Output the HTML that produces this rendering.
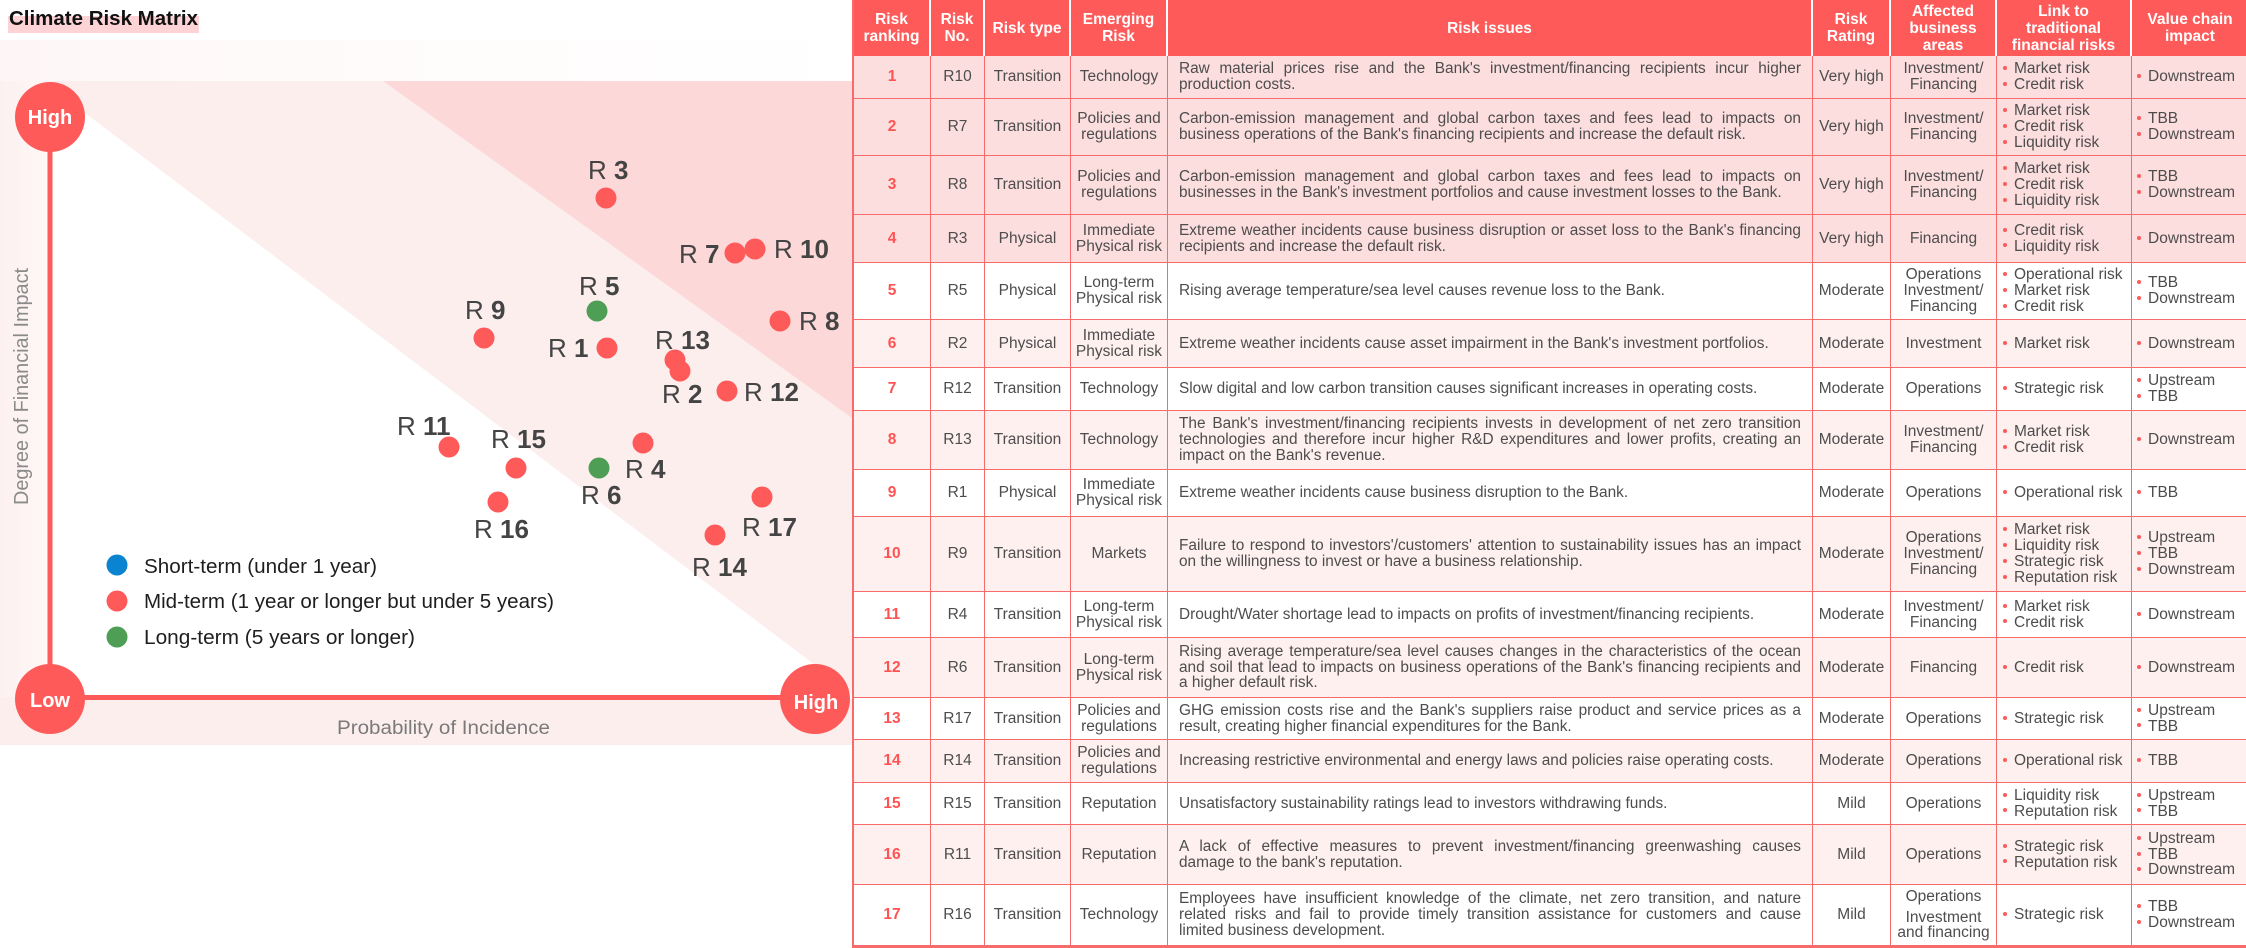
<!DOCTYPE html>
<html><head><meta charset="utf-8">
<style>
html,body{margin:0;padding:0;background:#fff;}
body{width:2246px;height:948px;position:relative;overflow:hidden;font-family:"Liberation Sans",sans-serif;}
#chart{position:absolute;left:0;top:0;}
#t{position:absolute;left:852px;top:0;width:1394px;display:grid;
 grid-template-columns:77px 54px 86px 97px 645px 78px 106px 135px 116px;
 grid-template-rows:56px 43px 57px 59px 48px 57px 48px 43px 59px 47px 75px 46px 60px 42px 43px 42px 60px 61px;
 font-size:15.5px;color:#4d4d4d;border-left:2px solid #f76b6b;border-bottom:2px solid #f76b6b;box-sizing:border-box;}
.r{display:contents;}
.r>div{box-sizing:border-box;border-right:1.5px solid #f76b6b;border-bottom:1.5px solid #f76b6b;display:flex;align-items:center;justify-content:center;text-align:center;line-height:15.8px;}
.hd>div{background:#ff5a5a;color:#fff;font-weight:bold;border-right:2px solid #fff;border-bottom:none;line-height:17px;}
.hd>div:last-child{border-right:none;}
.pk>div{background:#fddede;}
.lp>div{background:#fff0f0;}
.r>div:nth-child(1){color:#ff5252;font-weight:bold;}
.hd>div:nth-child(1){color:#fff;}
.r>div:nth-child(5){justify-content:flex-start;padding:0 11px;text-align:left;font-size:15.4px;}
.hd>div:nth-child(5){justify-content:center;}
.iss{width:100%;}
.iss div{text-align:justify;text-align-last:justify;}
.iss div:last-child{text-align-last:left;}
.lh20{line-height:20px;}
.bl{justify-content:flex-start !important;text-align:left !important;}
.r>div:nth-child(8).bl{padding-left:6px;}
.r>div:nth-child(9).bl{padding-left:5px;}
.bl>span{display:block;}
.b{white-space:nowrap;display:block;}
.b::before{content:"";display:inline-block;width:4px;height:4px;border-radius:50%;background:#ff5a5a;margin-right:7px;vertical-align:middle;position:relative;top:-1px;}
.r>div:last-child{border-right:none;}
</style></head><body>

<svg id="chart" width="852" height="760" viewBox="0 0 852 760" xmlns="http://www.w3.org/2000/svg">
 <defs>
  <linearGradient id="lg" x1="0" y1="0" x2="1" y2="0">
   <stop offset="0" stop-color="#fdf0f0"/><stop offset="1" stop-color="#fef7f7"/>
  </linearGradient>
  <linearGradient id="tg" x1="0" y1="0" x2="1" y2="0">
   <stop offset="0" stop-color="#fef6f6"/><stop offset="0.3" stop-color="#fffafa"/><stop offset="1" stop-color="#ffffff"/>
  </linearGradient>
 </defs>
 <rect x="0" y="0" width="852" height="760" fill="#fff"/>
 <rect x="0" y="40" width="852" height="41" fill="url(#tg)"/>
 <rect x="0" y="81" width="852" height="664" fill="#fdeeee"/>
 <rect x="0" y="81" width="48" height="616" fill="url(#lg)"/>
 <polygon points="383,81 852,81 852,418" fill="#fdd8d8"/>
 <polygon points="50,86.5 852,693 852,699 50,699" fill="#fff"/>
 <rect x="8" y="16" width="191" height="17" fill="#fdd3d6"/>
 <text x="9" y="25" font-size="20" font-weight="bold" fill="#111" textLength="189" lengthAdjust="spacingAndGlyphs">Climate Risk Matrix</text>

 <line x1="50" y1="117" x2="50" y2="699" stroke="#ff5a5a" stroke-width="5"/>
 <line x1="50" y1="697.5" x2="815" y2="697.5" stroke="#ff5a5a" stroke-width="5"/>
 <circle cx="50" cy="117" r="35" fill="#ff5a5a"/>
 <circle cx="50" cy="699" r="35" fill="#ff5a5a"/>
 <circle cx="815" cy="699" r="35" fill="#ff5a5a"/>
 <text x="50" y="124" font-size="20" font-weight="bold" fill="#fff" text-anchor="middle">High</text>
 <text x="50" y="707" font-size="20" font-weight="bold" fill="#fff" text-anchor="middle">Low</text>
 <text x="816" y="709" font-size="20" font-weight="bold" fill="#fff" text-anchor="middle">High</text>

 <text transform="translate(28,505) rotate(-90)" x="0" y="0" font-size="20" fill="#8a8a8a" textLength="237" lengthAdjust="spacingAndGlyphs">Degree of Financial Impact</text>
 <text x="337" y="734" font-size="19" fill="#7a7a7a" textLength="213" lengthAdjust="spacingAndGlyphs">Probability of Incidence</text>

 <g fill="#ff5a5a">
  <circle cx="606" cy="198" r="10.5"/>
  <circle cx="735" cy="253" r="10.5"/>
  <circle cx="755" cy="249" r="10.5"/>
  <circle cx="780" cy="321" r="10.5"/>
  <circle cx="484" cy="338" r="10.5"/>
  <circle cx="607" cy="348" r="10.5"/>
  <circle cx="675" cy="360" r="10.5"/>
  <circle cx="680" cy="371" r="10.5"/>
  <circle cx="727" cy="391" r="10.5"/>
  <circle cx="449" cy="447" r="10.5"/>
  <circle cx="516" cy="468" r="10.5"/>
  <circle cx="643" cy="443" r="10.5"/>
  <circle cx="498" cy="502" r="10.5"/>
  <circle cx="762" cy="497" r="10.5"/>
  <circle cx="715" cy="535" r="10.5"/>
 </g>
 <g fill="#4f9e56">
  <circle cx="597" cy="311" r="10.5"/>
  <circle cx="599" cy="468" r="10.5"/>
 </g>

 <g font-size="26" fill="#444">
  <text x="588" y="179">R <tspan font-weight="bold">3</tspan></text>
  <text x="679" y="263">R <tspan font-weight="bold">7</tspan></text>
  <text x="774" y="258">R <tspan font-weight="bold">10</tspan></text>
  <text x="579" y="295">R <tspan font-weight="bold">5</tspan></text>
  <text x="465" y="319">R <tspan font-weight="bold">9</tspan></text>
  <text x="548" y="357">R <tspan font-weight="bold">1</tspan></text>
  <text x="655" y="349">R <tspan font-weight="bold">13</tspan></text>
  <text x="662" y="403">R <tspan font-weight="bold">2</tspan></text>
  <text x="799" y="330">R <tspan font-weight="bold">8</tspan></text>
  <text x="744" y="401">R <tspan font-weight="bold">12</tspan></text>
  <text x="397" y="435">R <tspan font-weight="bold">11</tspan></text>
  <text x="491" y="448">R <tspan font-weight="bold">15</tspan></text>
  <text x="625" y="478">R <tspan font-weight="bold">4</tspan></text>
  <text x="581" y="504">R <tspan font-weight="bold">6</tspan></text>
  <text x="474" y="538">R <tspan font-weight="bold">16</tspan></text>
  <text x="742" y="536">R <tspan font-weight="bold">17</tspan></text>
  <text x="692" y="576">R <tspan font-weight="bold">14</tspan></text>
 </g>

 <circle cx="117" cy="565" r="10.5" fill="#0a84d0"/>
 <circle cx="117" cy="601" r="10.5" fill="#ff5a5a"/>
 <circle cx="117" cy="637" r="10.5" fill="#4f9e56"/>
 <g font-size="20" fill="#1e1e1e">
  <text x="144" y="573" textLength="233" lengthAdjust="spacingAndGlyphs">Short-term (under 1 year)</text>
  <text x="144" y="608" textLength="410" lengthAdjust="spacingAndGlyphs">Mid-term (1 year or longer but under 5 years)</text>
  <text x="144" y="644" textLength="271" lengthAdjust="spacingAndGlyphs">Long-term (5 years or longer)</text>
 </g>
</svg>

<div id="t">
 <div class="r hd">
  <div>Risk<br>ranking</div><div>Risk<br>No.</div><div>Risk type</div><div>Emerging<br>Risk</div><div>Risk issues</div><div>Risk<br>Rating</div><div>Affected<br>business<br>areas</div><div>Link to<br>traditional<br>financial risks</div><div>Value chain<br>impact</div>
 </div>

 <div class="r pk">
  <div>1</div><div>R10</div><div>Transition</div><div>Technology</div>
  <div><div class="iss"><div>Raw material prices rise and the Bank's investment/financing recipients incur higher</div><div>production costs.</div></div></div>
  <div>Very high</div><div>Investment/<br>Financing</div>
  <div class="bl"><span><span class="b">Market risk</span><span class="b">Credit risk</span></span></div>
  <div class="bl"><span><span class="b">Downstream</span></span></div>
 </div>

 <div class="r pk">
  <div>2</div><div>R7</div><div>Transition</div><div>Policies and<br>regulations</div>
  <div><div class="iss"><div>Carbon-emission management and global carbon taxes and fees lead to impacts on</div><div>business operations of the Bank's financing recipients and increase the default risk.</div></div></div>
  <div>Very high</div><div>Investment/<br>Financing</div>
  <div class="bl"><span><span class="b">Market risk</span><span class="b">Credit risk</span><span class="b">Liquidity risk</span></span></div>
  <div class="bl"><span><span class="b">TBB</span><span class="b">Downstream</span></span></div>
 </div>

 <div class="r pk">
  <div>3</div><div>R8</div><div>Transition</div><div>Policies and<br>regulations</div>
  <div><div class="iss"><div>Carbon-emission management and global carbon taxes and fees lead to impacts on</div><div>businesses in the Bank's investment portfolios and cause investment losses to the Bank.</div></div></div>
  <div>Very high</div><div>Investment/<br>Financing</div>
  <div class="bl"><span><span class="b">Market risk</span><span class="b">Credit risk</span><span class="b">Liquidity risk</span></span></div>
  <div class="bl"><span><span class="b">TBB</span><span class="b">Downstream</span></span></div>
 </div>

 <div class="r pk">
  <div>4</div><div>R3</div><div>Physical</div><div class="lh20">Immediate<br>Physical risk</div>
  <div><div class="iss"><div>Extreme weather incidents cause business disruption or asset loss to the Bank's financing</div><div>recipients and increase the default risk.</div></div></div>
  <div>Very high</div><div>Financing</div>
  <div class="bl"><span><span class="b">Credit risk</span><span class="b">Liquidity risk</span></span></div>
  <div class="bl"><span><span class="b">Downstream</span></span></div>
 </div>

 <div class="r">
  <div>5</div><div>R5</div><div>Physical</div><div class="lh20">Long-term<br>Physical risk</div>
  <div><div class="iss"><div>Rising average temperature/sea level causes revenue loss to the Bank.</div></div></div>
  <div>Moderate</div><div>Operations<br>Investment/<br>Financing</div>
  <div class="bl"><span><span class="b">Operational risk</span><span class="b">Market risk</span><span class="b">Credit risk</span></span></div>
  <div class="bl"><span><span class="b">TBB</span><span class="b">Downstream</span></span></div>
 </div>

 <div class="r lp">
  <div>6</div><div>R2</div><div>Physical</div><div class="lh20">Immediate<br>Physical risk</div>
  <div><div class="iss"><div>Extreme weather incidents cause asset impairment in the Bank's investment portfolios.</div></div></div>
  <div>Moderate</div><div>Investment</div>
  <div class="bl"><span><span class="b">Market risk</span></span></div>
  <div class="bl"><span><span class="b">Downstream</span></span></div>
 </div>

 <div class="r">
  <div>7</div><div>R12</div><div>Transition</div><div>Technology</div>
  <div><div class="iss"><div>Slow digital and low carbon transition causes significant increases in operating costs.</div></div></div>
  <div>Moderate</div><div>Operations</div>
  <div class="bl"><span><span class="b">Strategic risk</span></span></div>
  <div class="bl"><span><span class="b">Upstream</span><span class="b">TBB</span></span></div>
 </div>

 <div class="r lp">
  <div>8</div><div>R13</div><div>Transition</div><div>Technology</div>
  <div><div class="iss"><div>The Bank's investment/financing recipients invests in development of net zero transition</div><div>technologies and therefore incur higher R&amp;D expenditures and lower profits, creating an</div><div>impact on the Bank's revenue.</div></div></div>
  <div>Moderate</div><div>Investment/<br>Financing</div>
  <div class="bl"><span><span class="b">Market risk</span><span class="b">Credit risk</span></span></div>
  <div class="bl"><span><span class="b">Downstream</span></span></div>
 </div>

 <div class="r">
  <div>9</div><div>R1</div><div>Physical</div><div class="lh20">Immediate<br>Physical risk</div>
  <div><div class="iss"><div>Extreme weather incidents cause business disruption to the Bank.</div></div></div>
  <div>Moderate</div><div>Operations</div>
  <div class="bl"><span><span class="b">Operational risk</span></span></div>
  <div class="bl"><span><span class="b">TBB</span></span></div>
 </div>

 <div class="r lp">
  <div>10</div><div>R9</div><div>Transition</div><div>Markets</div>
  <div><div class="iss"><div>Failure to respond to investors'/customers' attention to sustainability issues has an impact</div><div>on the willingness to invest or have a business relationship.</div></div></div>
  <div>Moderate</div><div>Operations<br>Investment/<br>Financing</div>
  <div class="bl"><span><span class="b">Market risk</span><span class="b">Liquidity risk</span><span class="b">Strategic risk</span><span class="b">Reputation risk</span></span></div>
  <div class="bl"><span><span class="b">Upstream</span><span class="b">TBB</span><span class="b">Downstream</span></span></div>
 </div>

 <div class="r">
  <div>11</div><div>R4</div><div>Transition</div><div class="lh20">Long-term<br>Physical risk</div>
  <div><div class="iss"><div>Drought/Water shortage lead to impacts on profits of investment/financing recipients.</div></div></div>
  <div>Moderate</div><div>Investment/<br>Financing</div>
  <div class="bl"><span><span class="b">Market risk</span><span class="b">Credit risk</span></span></div>
  <div class="bl"><span><span class="b">Downstream</span></span></div>
 </div>

 <div class="r lp">
  <div>12</div><div>R6</div><div>Transition</div><div class="lh20">Long-term<br>Physical risk</div>
  <div><div class="iss"><div>Rising average temperature/sea level causes changes in the characteristics of the ocean</div><div>and soil that lead to impacts on business operations of the Bank's financing recipients and</div><div>a higher default risk.</div></div></div>
  <div>Moderate</div><div>Financing</div>
  <div class="bl"><span><span class="b">Credit risk</span></span></div>
  <div class="bl"><span><span class="b">Downstream</span></span></div>
 </div>

 <div class="r">
  <div>13</div><div>R17</div><div>Transition</div><div>Policies and<br>regulations</div>
  <div><div class="iss"><div>GHG emission costs rise and the Bank's suppliers raise product and service prices as a</div><div>result, creating higher financial expenditures for the Bank.</div></div></div>
  <div>Moderate</div><div>Operations</div>
  <div class="bl"><span><span class="b">Strategic risk</span></span></div>
  <div class="bl"><span><span class="b">Upstream</span><span class="b">TBB</span></span></div>
 </div>

 <div class="r lp">
  <div>14</div><div>R14</div><div>Transition</div><div>Policies and<br>regulations</div>
  <div><div class="iss"><div>Increasing restrictive environmental and energy laws and policies raise operating costs.</div></div></div>
  <div>Moderate</div><div>Operations</div>
  <div class="bl"><span><span class="b">Operational risk</span></span></div>
  <div class="bl"><span><span class="b">TBB</span></span></div>
 </div>

 <div class="r">
  <div>15</div><div>R15</div><div>Transition</div><div>Reputation</div>
  <div><div class="iss"><div>Unsatisfactory sustainability ratings lead to investors withdrawing funds.</div></div></div>
  <div>Mild</div><div>Operations</div>
  <div class="bl"><span><span class="b">Liquidity risk</span><span class="b">Reputation risk</span></span></div>
  <div class="bl"><span><span class="b">Upstream</span><span class="b">TBB</span></span></div>
 </div>

 <div class="r lp">
  <div>16</div><div>R11</div><div>Transition</div><div>Reputation</div>
  <div><div class="iss"><div>A lack of effective measures to prevent investment/financing greenwashing causes</div><div>damage to the bank's reputation.</div></div></div>
  <div>Mild</div><div>Operations</div>
  <div class="bl"><span><span class="b">Strategic risk</span><span class="b">Reputation risk</span></span></div>
  <div class="bl"><span><span class="b">Upstream</span><span class="b">TBB</span><span class="b">Downstream</span></span></div>
 </div>

 <div class="r">
  <div>17</div><div>R16</div><div>Transition</div><div>Technology</div>
  <div><div class="iss"><div>Employees have insufficient knowledge of the climate, net zero transition, and nature</div><div>related risks and fail to provide timely transition assistance for customers and cause</div><div>limited business development.</div></div></div>
  <div>Mild</div><div><span><span style="display:block;margin-bottom:5px">Operations</span><span style="display:block">Investment<br>and financing</span></span></div>
  <div class="bl"><span><span class="b">Strategic risk</span></span></div>
  <div class="bl"><span><span class="b">TBB</span><span class="b">Downstream</span></span></div>
 </div>
</div>
</body></html>
